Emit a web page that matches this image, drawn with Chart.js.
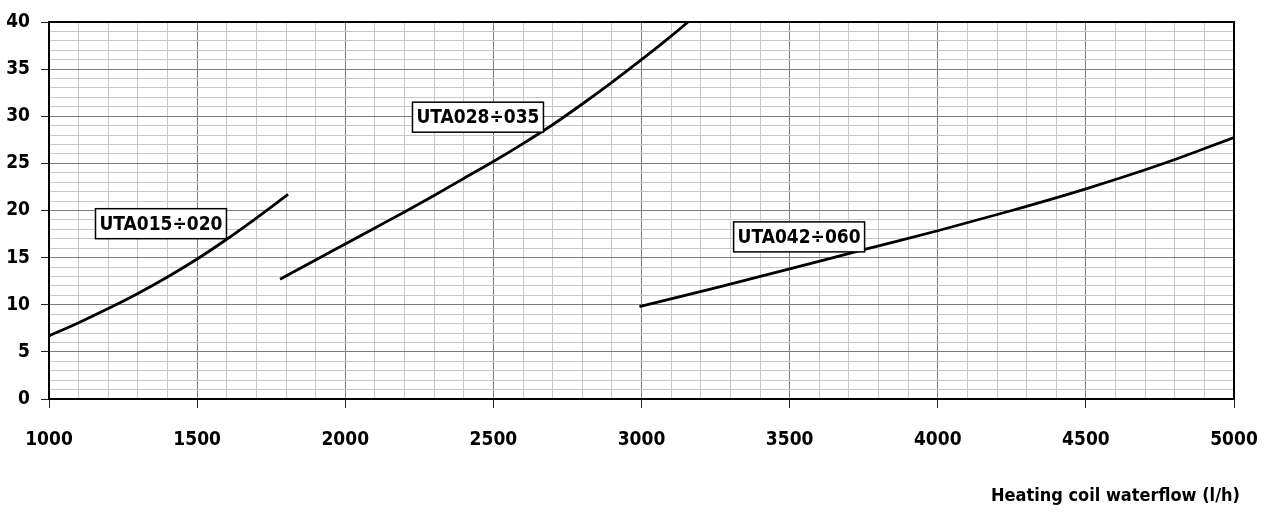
<!DOCTYPE html>
<html>
<head>
<meta charset="utf-8">
<script src="https://cdn.jsdelivr.net/npm/chart.js@4"></script>
<style>
  html, body { margin: 0; padding: 0; background: #fff; }
  #wrap { width: 1267px; height: 512px; }
</style>
</head>
<body>
<div id="wrap"><canvas id="chart"></canvas></div>
<script>
// curve values (x = waterflow l/h)
const uta015X = [1000, 1100, 1200, 1300, 1400, 1500, 1600, 1700, 1807];
const uta015Y = [6.7, 8.1, 9.6, 11.2, 12.95, 14.85, 16.95, 19.2, 21.7];

const uta028X = [1780, 1900, 2000, 2100, 2200, 2300, 2400, 2500, 2600, 2700, 2800, 2900, 3000, 3100, 3157];
const uta028Y = [12.7, 14.75, 16.45, 18.15, 19.85, 21.6, 23.4, 25.2, 27.1, 29.1, 31.3, 33.6, 36.0, 38.5, 40];

const uta042X = [2993, 3250, 3500, 3750, 4000, 4250, 4500, 4750, 5000];
const uta042Y = [9.8, 11.8, 13.8, 15.85, 17.85, 20.0, 22.3, 24.85, 27.75];

// curve labels and where they sit (data coords)
const labelTexts = ["UTA015÷020", "UTA028÷035", "UTA042÷060"];
const labelX = [1378, 2448, 3532];
const labelY = [18.6, 29.9, 17.2];

const xTitle = "Heating coil waterflow (l/h)";

const FONT = "'DejaVu Sans Condensed', 'Liberation Sans Narrow', sans-serif";

function toPoints(xs, ys) {
    return xs.map((x, i) => ({x: x, y: ys[i]}));
}

function curve(xs, ys) {
    return {
        data: toPoints(xs, ys),
        showLine: true,
        borderColor: "#000",
        borderWidth: 2.8,
        pointRadius: 0,
        cubicInterpolationMode: "monotone",
        fill: false
    };
}

//frame, boxed labels and axis title
const extras = {
    id: "extras",
    afterDatasetsDraw(chart) {
        const {ctx, chartArea, scales} = chart;
        ctx.save();
        ctx.strokeStyle = "#000";
        ctx.lineWidth = 2;
        ctx.strokeRect(chartArea.left, chartArea.top, chartArea.right - chartArea.left, chartArea.bottom - chartArea.top);

        ctx.font = "bold 19px " + FONT;
        ctx.textAlign = "center";
        ctx.textBaseline = "middle";
        labelTexts.forEach((t, i) => {
            const px = scales.x.getPixelForValue(labelX[i]);
            const py = scales.y.getPixelForValue(labelY[i]);
            const w = ctx.measureText(t).width + 8;
            const h = 30;
            ctx.fillStyle = "#fff";
            ctx.fillRect(px - w / 2, py - h / 2, w, h);
            ctx.lineWidth = 1.5;
            ctx.strokeRect(px - w / 2, py - h / 2, w, h);
            ctx.fillStyle = "#000";
            ctx.fillText(t, px, py + 1);
        });

        ctx.font = "bold 18px " + FONT;
        ctx.textAlign = "right";
        ctx.fillText(xTitle, chartArea.right + 6, 496);
        ctx.restore();
    }
};

const isMajorX = v => Math.round(v) % 500 === 0;
const isMajorY = v => Math.round(v) % 5 === 0;

new Chart(document.getElementById("chart"), {
    type: "scatter",
    data: {
        datasets: [curve(uta015X, uta015Y), curve(uta028X, uta028Y), curve(uta042X, uta042Y)]
    },
    options: {
        responsive: true,
        maintainAspectRatio: false,
        animation: false,
        layout: { padding: { top: 22, right: 33, left: 0, bottom: 0 } },
        plugins: { legend: { display: false }, tooltip: { enabled: false } },
        scales: {
            x: {
                type: "linear",
                min: 1000,
                max: 5000,
                afterFit: s => { s.height = 113; s.paddingLeft = 0; s.paddingRight = 0; },
                ticks: {
                    stepSize: 100,
                    autoSkip: false,
                    maxRotation: 0,
                    padding: 21,
                    color: "#000",
                    font: { family: FONT, size: 19, weight: "bold" },
                    callback: v => isMajorX(v) ? String(v) : ""
                },
                grid: {
                    color: c => isMajorX(c.tick.value) ? "#7c7c7c" : "#c8c8c8",
                    lineWidth: 1,
                    tickLength: 9,
                    tickColor: c => isMajorX(c.tick.value) ? "#222" : "rgba(0,0,0,0)"
                },
                border: { color: "#000", width: 2 }
            },
            y: {
                min: 0,
                max: 40,
                afterFit: s => { s.width = 49; s.paddingTop = 0; s.paddingBottom = 0; },
                ticks: {
                    stepSize: 1,
                    autoSkip: false,
                    padding: 11,
                    color: "#000",
                    font: { family: FONT, size: 19, weight: "bold" },
                    callback: v => isMajorY(v) ? String(v) : ""
                },
                grid: {
                    color: c => isMajorY(c.tick.value) ? "#7c7c7c" : "#c8c8c8",
                    lineWidth: 1,
                    tickLength: 8,
                    tickColor: c => isMajorY(c.tick.value) ? "#222" : "rgba(0,0,0,0)"
                },
                border: { color: "#000", width: 2 }
            }
        }
    },
    plugins: [extras]
});
</script>
</body>
</html>
